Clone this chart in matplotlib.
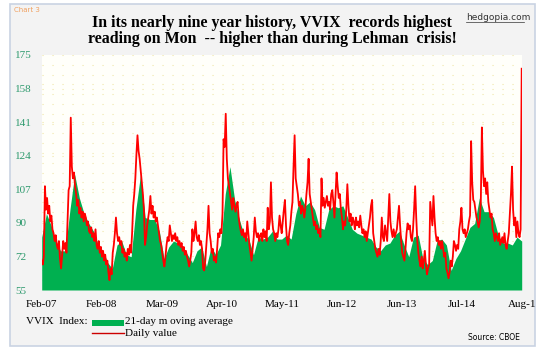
import numpy as np
import pandas as pd
import matplotlib
matplotlib.use("Agg")
import matplotlib.pyplot as plt
from matplotlib.patches import Rectangle
from matplotlib.lines import Line2D

# weekly VVIX readings (Monday closes), one list per calendar year
vvix_2007 = [70, 68, 72, 108, 96, 102, 94, 98, 90, 93, 86, 84, 80, 83, 78, 76,
             80, 71, 66, 73, 80, 76, 79, 74, 90, 106, 108, 143, 118, 112, 115, 108,
             104, 98, 101, 94, 97, 92, 95, 90, 94, 92, 88, 90, 85, 84, 87, 82]
vvix_2008 = [84, 80, 86, 78, 76, 80, 74, 77, 72, 75, 70, 73, 68, 70, 64, 60,
             66, 63, 74, 78, 84, 92, 84, 80, 82, 78, 80, 74, 76, 72, 74, 70,
             76, 73, 78, 74, 84, 98, 104, 112, 124, 134, 126, 122, 116, 110, 104, 96,
             78, 82, 88, 92]
vvix_2009 = [96, 103, 94, 98, 92, 95, 90, 92, 88, 84, 80, 78, 74, 70, 67, 72,
             78, 82, 80, 88, 84, 80, 83, 81, 84, 80, 82, 78, 80, 77, 79, 75,
             77, 73, 75, 72, 70, 67, 70, 74, 86, 80, 84, 90, 82, 80, 83, 78,
             80, 76, 66, 65]
vvix_2010 = [70, 78, 86, 98, 84, 80, 74, 76, 70, 72, 69, 76, 84, 82, 86, 84,
             94, 132, 128, 145, 122, 112, 108, 104, 100, 96, 102, 98, 95, 98, 100, 92,
             88, 85, 83, 86, 82, 84, 80, 90, 84, 78, 74, 70, 76, 82, 92, 85,
             82, 84, 80, 83]
vvix_2011 = [84, 80, 86, 82, 85, 80, 97, 86, 90, 110, 92, 86, 84, 80, 84, 82,
             86, 93, 88, 84, 90, 96, 101, 88, 80, 78, 84, 88, 95, 100, 118, 134,
             112, 108, 104, 98, 100, 94, 98, 96, 92, 97, 104, 110, 122, 104, 100, 96,
             92, 88, 90, 86]
vvix_2012 = [88, 84, 86, 82, 112, 98, 102, 97, 100, 103, 98, 100, 96, 104, 106, 100,
             92, 104, 115, 108, 102, 104, 96, 92, 86, 90, 88, 96, 109, 98, 90, 94,
             88, 92, 90, 86, 92, 88, 90, 87, 93, 88, 84, 86, 82, 85, 80, 84,
             88, 92, 98, 101, 84]
vvix_2013 = [80, 76, 74, 72, 76, 73, 80, 92, 82, 80, 88, 84, 80, 92, 104, 90,
             85, 82, 86, 82, 84, 86, 92, 98, 88, 80, 74, 72, 70, 76, 84, 89,
             86, 88, 82, 80, 86, 96, 108, 92, 80, 74, 70, 67, 72, 66, 70, 75,
             68, 63, 66, 68]
vvix_2014 = [100, 94, 88, 103, 92, 84, 80, 82, 78, 80, 76, 80, 76, 72, 74, 66,
             64, 61, 64, 70, 67, 72, 80, 78, 75, 78, 76, 86, 90, 97, 86, 84,
             86, 82, 84, 86, 90, 93, 131, 110, 101, 100, 96, 92, 90, 87, 90, 100,
             138, 116, 108, 112]
vvix_2015 = [104, 110, 100, 96, 92, 94, 86, 84, 80, 84, 82, 80, 84, 78, 80, 82,
             79, 84, 78, 76, 80, 84, 94, 104, 118, 96, 88, 92, 82, 90, 84, 82,
             86, 168]

year_spans = [("2007-02-05", "2007-12-31"), ("2008-01-07", "2008-12-29"),
              ("2009-01-05", "2009-12-28"), ("2010-01-04", "2010-12-27"),
              ("2011-01-03", "2011-12-26"), ("2012-01-02", "2012-12-31"),
              ("2013-01-07", "2013-12-30"), ("2014-01-06", "2014-12-29"),
              ("2015-01-05", "2015-08-24")]

# 21-day moving average, monthly reads Feb-07 .. Aug-15
ma_2007 = [82, 94, 88, 80, 75, 75, 96, 114, 102, 94, 89]
ma_2008 = [85, 78, 75, 69, 66, 78, 80, 73, 72, 96, 114, 92]
ma_2009 = [91, 91, 85, 71, 77, 80, 79, 77, 73, 69, 75, 77]
ma_2010 = [67, 77, 73, 78, 104, 118, 101, 91, 83, 81, 73, 82]
ma_2011 = [81, 82, 85, 81, 81, 83, 81, 94, 103, 98, 100, 96]
ma_2012 = [87, 86, 96, 98, 97, 98, 92, 86, 84, 83, 82, 81]
ma_2013 = [77, 75, 78, 79, 83, 85, 78, 72, 82, 83, 71, 68]
ma_2014 = [70, 80, 81, 78, 65, 71, 75, 81, 87, 89, 102, 95]
ma_2015 = [95, 92, 83, 79, 79, 78, 82, 80]

ytick_vals = [55, 72.14, 89.29, 106.43, 123.57, 140.71, 157.86, 175]
ytick_labels = ["55", "72", "90", "107", "124", "141", "158", "175"]
xtick_labels = ["Feb-07", "Feb-08", "Mar-09", "Apr-10", "May-11",
                "Jun-12", "Jun-13", "Jul-14", "Aug-1"]

daily_lists = [vvix_2007, vvix_2008, vvix_2009, vvix_2010, vvix_2011,
               vvix_2012, vvix_2013, vvix_2014, vvix_2015]
ma_lists = [ma_2007, ma_2008, ma_2009, ma_2010, ma_2011,
            ma_2012, ma_2013, ma_2014, ma_2015]

daily_dates = []
daily_vals = []
for (s, e), vals in zip(year_spans, daily_lists):
    daily_dates.extend(pd.date_range(s, e, periods=len(vals)))
    daily_vals.extend(vals)

ma_vals = [v for lst in ma_lists for v in lst]
start, end = pd.Timestamp("2007-02-05"), pd.Timestamp("2015-08-24")
ma_dates = pd.date_range(start, end, periods=len(ma_vals))

W, H = 545, 352
fig = plt.figure(figsize=(W / 100, H / 100), dpi=100)
fig.patch.set_facecolor("white")

# outer framed panel
fig.patches.append(Rectangle((10 / W, 1 - 346 / H), 525 / W, 342 / H,
                             transform=fig.transFigure, facecolor="#f3f3f3",
                             edgecolor="#c9d3e3", lw=1.2, zorder=-5))

ax = fig.add_axes([41.7 / W, 1 - 290 / H, 480 / W, 235 / H])
ax.set_zorder(2)
ax.set_facecolor("#fffffa")

ax.fill_between(ma_dates, 55, ma_vals, color="#00b050", lw=0, zorder=2)
ax.plot(daily_dates, daily_vals, color="#ff0000", lw=1.3, zorder=3)

ax.set_xlim(start, end)
ax.set_ylim(55, 175)
ax.set_yticks(ytick_vals)
ax.set_yticklabels(ytick_labels)
ax.set_yticks(np.arange(60, 175, 5), minor=True)
ax.set_xticks(pd.date_range(start, end, periods=len(xtick_labels)))
ax.set_xticklabels(xtick_labels)
ax.tick_params(which="both", length=0)
ax.tick_params(axis="y", pad=19, labelsize=8, labelcolor="#2e9a6e")
ax.tick_params(axis="x", pad=7, labelsize=8)
for lab in ax.get_yticklabels():
    lab.set_horizontalalignment("left")
    lab.set_family("Liberation Serif")
for lab in ax.get_xticklabels():
    lab.set_family("Liberation Serif")
for sp in ax.spines.values():
    sp.set_visible(False)
ax.grid(axis="y", which="both", color="#efe6a8", linestyle=(0, (1, 8)), lw=0.8, zorder=1)
ax.grid(axis="x", visible=False)

serif = "Liberation Serif"
fig.text(14 / W, 1 - 10 / H, "Chart 3", color="#f0a060", fontsize=5, va="center",
         family="DejaVu Sans")
fig.text(272 / W, 1 - 23 / H, "In its nearly nine year history, VVIX  records highest",
         ha="center", va="center", fontsize=11.4, fontweight="bold", family=serif)
fig.text(272 / W, 1 - 39 / H, "reading on Mon  -- higher than during Lehman  crisis!",
         ha="center", va="center", fontsize=11.4, fontweight="bold", family=serif)
fig.text(466 / W, 1 - 18 / H, "hedgopia.com", fontsize=6.5, va="center",
         color="#333333", family="DejaVu Sans")
fig.lines.append(Line2D([466 / W, 524 / W], [1 - 22 / H, 1 - 22 / H],
                        transform=fig.transFigure, color="#333333", lw=0.5))

# legend block at the bottom
fig.text(26 / W, 1 - 322 / H, "VVIX  Index:", fontsize=8, va="center", family=serif)
fig.patches.append(Rectangle((92 / W, 1 - 326 / H), 32 / W, 6 / H,
                             transform=fig.transFigure, facecolor="#00b050",
                             edgecolor="none"))
fig.lines.append(Line2D([92 / W, 124 / W], [1 - 333 / H, 1 - 333 / H],
                        transform=fig.transFigure, color="#cc0000", lw=1))
fig.text(125 / W, 1 - 322 / H, "21-day m oving average", fontsize=8, va="center",
         family=serif)
fig.text(125 / W, 1 - 333 / H, "Daily value", fontsize=8, va="center", family=serif)
fig.text(520 / W, 1 - 337 / H, "Source: CBOE", fontsize=5.5, ha="right", va="center",
         family="DejaVu Sans")

fig.savefig("out.png", dpi=100)
